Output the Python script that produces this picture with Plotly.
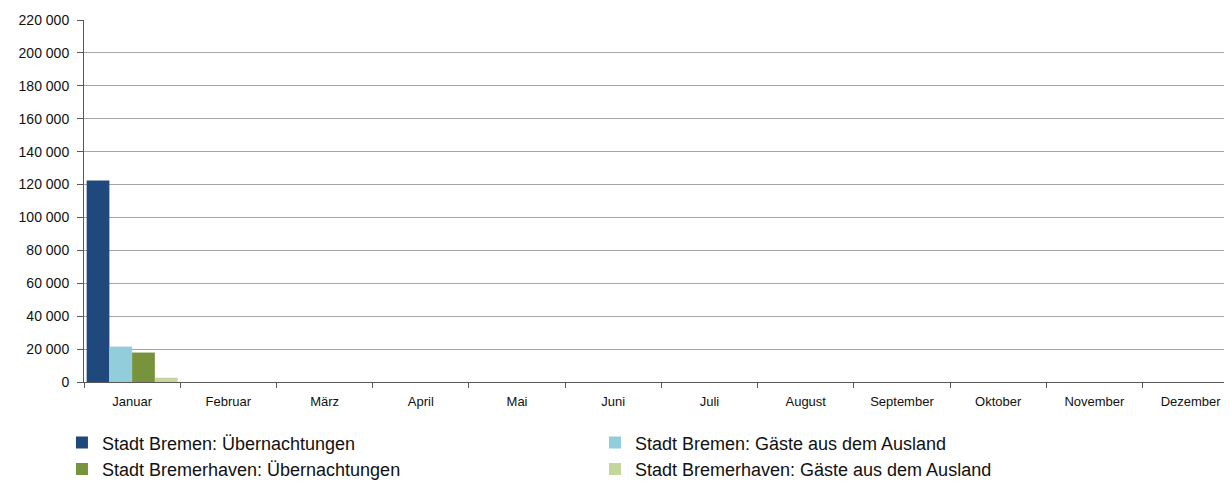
import plotly.graph_objects as go

months = ["Januar", "Februar", "März", "April", "Mai", "Juni", "Juli",
          "August", "September", "Oktober", "November", "Dezember"]

bremen_uebernachtungen = [122500, None, None, None, None, None, None, None, None, None, None, None]
bremen_ausland = [21500, None, None, None, None, None, None, None, None, None, None, None]
bremerhaven_uebernachtungen = [17900, None, None, None, None, None, None, None, None, None, None, None]
bremerhaven_ausland = [2600, None, None, None, None, None, None, None, None, None, None, None]

series_names = ["Stadt Bremen: Übernachtungen", "Stadt Bremen: Gäste aus dem Ausland",
                "Stadt Bremerhaven: Übernachtungen", "Stadt Bremerhaven: Gäste aus dem Ausland"]
series_colors = ["#1F497D", "#92CDDC", "#77933C", "#C3D69B"]

y_tickvals = [0, 20000, 40000, 60000, 80000, 100000, 120000, 140000, 160000, 180000, 200000, 220000]
y_ticktext = ["0", "20 000", "40 000", "60 000", "80 000", "100 000", "120 000",
              "140 000", "160 000", "180 000", "200 000", "220 000"]

font_family = "Liberation Sans, Arial, sans-serif"

fig = go.Figure()
for name, vals, col in zip(series_names,
                           [bremen_uebernachtungen, bremen_ausland, bremerhaven_uebernachtungen, bremerhaven_ausland],
                           series_colors):
    fig.add_trace(go.Bar(x=months, y=vals, name=name, marker=dict(color=col, line=dict(width=0))))

fig.update_layout(
    width=1224, height=483,
    margin=dict(l=76, r=0, t=12, b=109),
    paper_bgcolor="white", plot_bgcolor="white",
    barmode="group", bargap=0.055, bargroupgap=0,
    font=dict(family=font_family, size=13, color="#111111"),
    showlegend=True,
    legend=dict(orientation="h", x=-0.0192, xanchor="left", y=-0.117, yanchor="top",
                font=dict(size=18, color="#111111"),
                entrywidth=488, entrywidthmode="pixels",
                tracegroupgap=0, itemclick=False, bgcolor="rgba(0,0,0,0)"),
)
fig.update_xaxes(
    type="category", range=[-0.5, 11.43],
    showline=True, linecolor="#595959", linewidth=1,
    ticks="outside", tickson="boundaries", ticklen=5, tickcolor="#595959",
    ticklabelstandoff=7, showgrid=False, tickfont=dict(size=13),
)
fig.update_yaxes(
    range=[0, 220000], tickvals=y_tickvals, ticktext=y_ticktext,
    showline=True, linecolor="#595959", linewidth=1,
    ticks="outside", ticklen=6, tickcolor="#595959", ticklabelstandoff=5,
    showgrid=True, gridcolor="#a6a6a6", gridwidth=1, zeroline=False,
    tickfont=dict(size=14),
)

fig.write_html("out.html")
